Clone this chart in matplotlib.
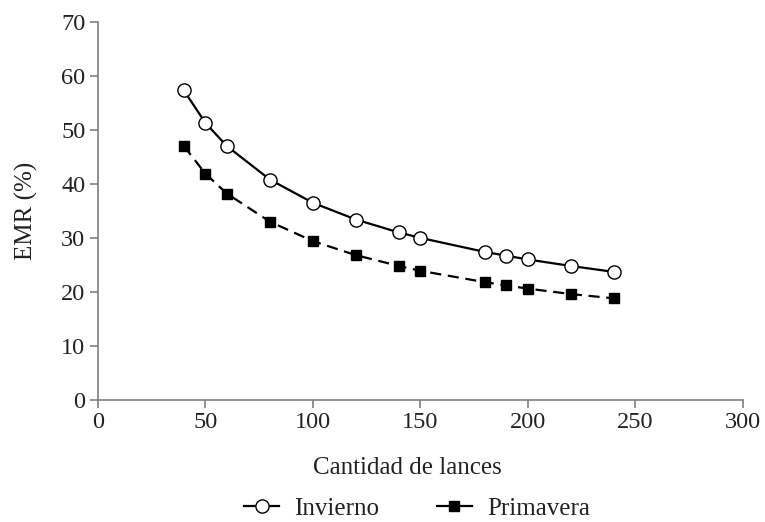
import matplotlib
matplotlib.use("Agg")
import matplotlib.pyplot as plt
from matplotlib.lines import Line2D

plt.rcParams['font.family'] = ['Liberation Serif', 'DejaVu Serif']

lances = [40, 50, 60, 80, 100, 120, 140, 150, 180, 190, 200, 220, 240]
invierno = [57.3, 51.3, 47.0, 40.8, 36.5, 33.4, 31.0, 30.0, 27.4, 26.7, 26.0, 24.8, 23.7]
primavera = [47.0, 41.9, 38.2, 33.0, 29.4, 26.8, 24.8, 23.9, 21.8, 21.2, 20.6, 19.6, 18.8]

fig = plt.figure(figsize=(7.65, 5.22), dpi=100)
ax = fig.add_axes([0.128, 0.234, 0.843, 0.724])

ax.plot(lances, invierno, color='black', lw=1.6, marker='o', ms=9.5,
        mfc='white', mec='black', mew=1.0, zorder=3)
ax.plot(lances, primavera, color='black', lw=1.6, ls=(0, (5, 3)), marker='s', ms=7.5,
        mfc='black', mec='black', zorder=3)

ax.set_xlim(0, 300)
ax.set_ylim(0, 70)
ax.set_xticks(range(0, 301, 50))
ax.set_yticks(range(0, 71, 10))
for s in ['top', 'right']:
    ax.spines[s].set_visible(False)
for s in ['left', 'bottom']:
    ax.spines[s].set_color('#7f7f7f')
    ax.spines[s].set_linewidth(1.2)
ax.tick_params(colors='#7f7f7f', labelcolor='#222222', labelsize=17.5, length=6, width=1.2)
ax.tick_params(axis='x', pad=3)
ax.tick_params(axis='y', pad=3)

ax.set_xlabel("Cantidad de lances", fontsize=18, color='#222222')
ax.xaxis.set_label_coords(0.48, -0.15)
ax.set_ylabel("EMR (%)", fontsize=18, color='#222222', labelpad=17)

handles = [
    Line2D([], [], color='black', lw=1.6, marker='o', ms=9.5, mfc='white', mec='black'),
    Line2D([], [], color='black', lw=1.6, marker='s', ms=7, mfc='black', mec='black'),
]
fig.legend(handles, ["Invierno", "Primavera"], loc='center', bbox_to_anchor=(0.545, 0.025),
           ncol=2, frameon=False, fontsize=18, handlelength=1.4, columnspacing=2.3,
           handletextpad=0.6, labelcolor='#222222')

fig.savefig("out.png", dpi=100)
